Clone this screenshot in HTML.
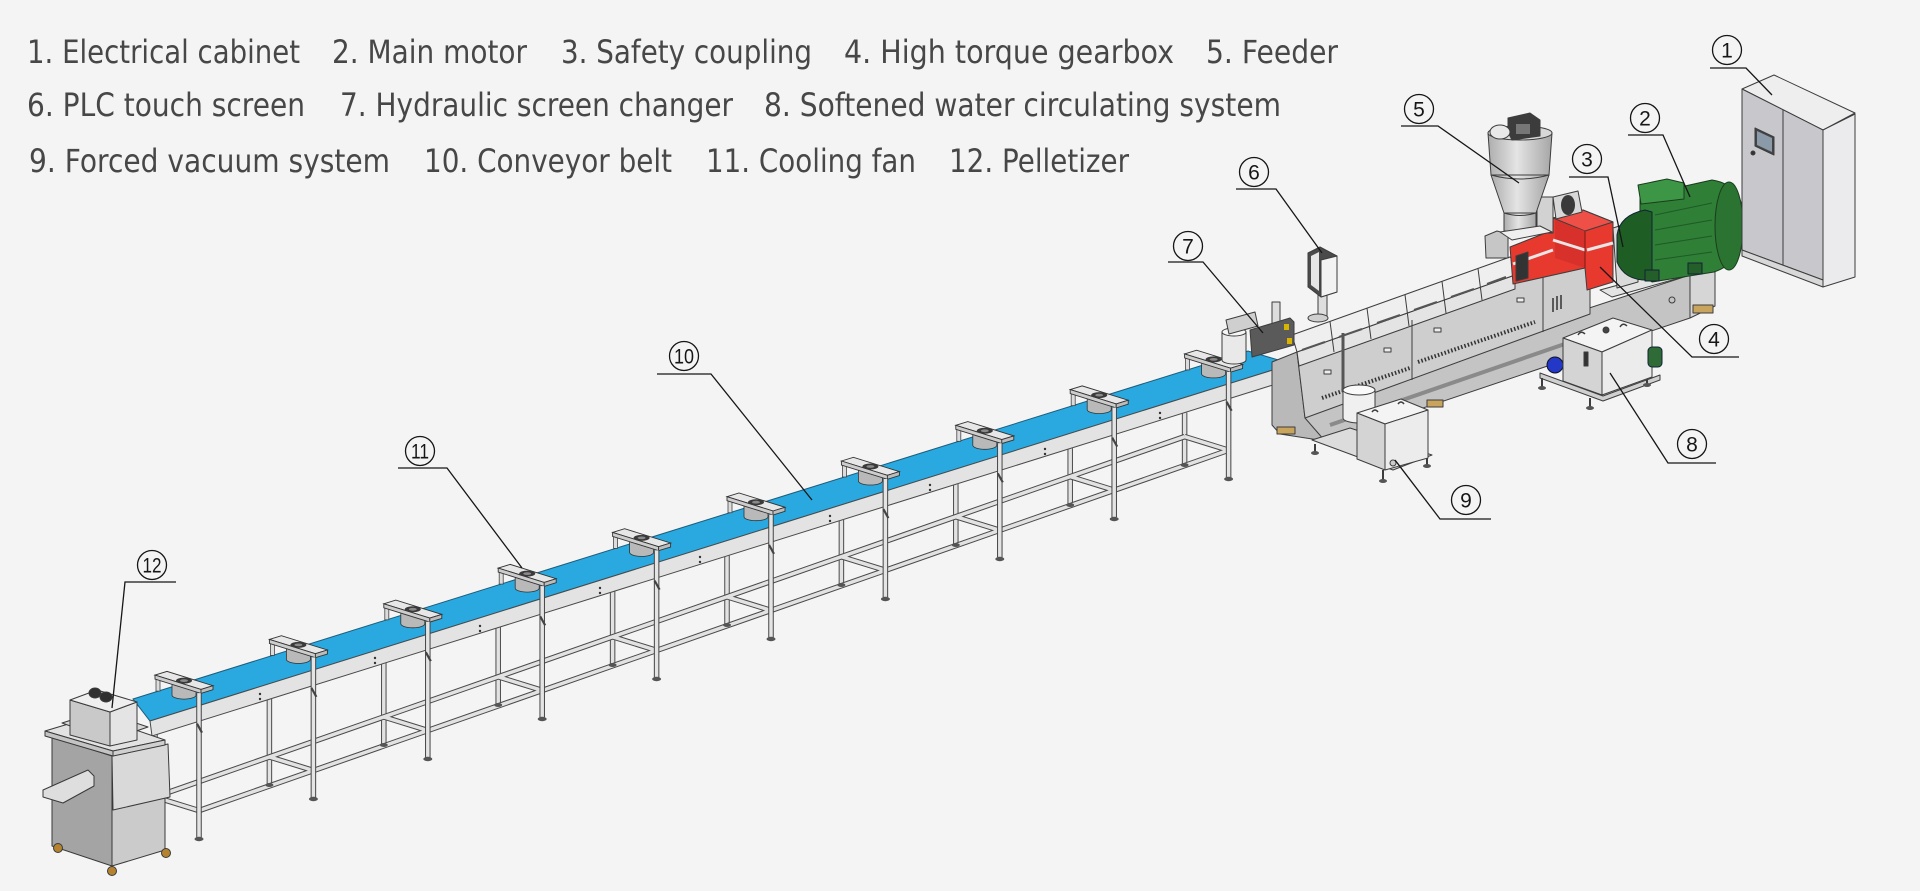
<!DOCTYPE html>
<html><head><meta charset="utf-8"><style>
html,body{margin:0;padding:0;background:#f4f4f4;width:1920px;height:891px;overflow:hidden}
svg{display:block}
</style></head><body>
<svg width="1920" height="891" viewBox="0 0 1920 891" xmlns="http://www.w3.org/2000/svg">
<defs>
<linearGradient id="hg" x1="0" x2="1" y1="0" y2="0"><stop offset="0" stop-color="#adadad"/><stop offset="0.45" stop-color="#e4e4e4"/><stop offset="1" stop-color="#a6a6a6"/></linearGradient>
<g id="fan">
 <rect x="1" y="-13" width="4" height="13" fill="#dcdcdc" stroke="#444" stroke-width="0.8"/>
 <path d="M17,-8 L17,4 A12,4 0 0 0 41,4 L41,-2 Z" fill="#b9b9b9" stroke="#333" stroke-width="0.8"/>
 <polygon points="0,-16 12,-19.7 58,-5.4 46,-1.7" fill="#e7e7e7" stroke="#333" stroke-width="0.9"/>
 <polygon points="0,-16 46,-1.7 46,2.3 0,-12" fill="#cdcdcd" stroke="#333" stroke-width="0.9"/>
 <polygon points="46,-1.7 58,-5.4 58,-1.4 46,2.3" fill="#bcbcbc" stroke="#333" stroke-width="0.9"/>
 <ellipse cx="29" cy="-10.5" rx="8" ry="3" fill="#3a3a3a"/>
 <ellipse cx="29" cy="-10.5" rx="4" ry="1.4" fill="#8a8a8a"/>
</g>
</defs>
<rect x="0" y="0" width="1920" height="891" fill="#f4f4f4"/>

<!-- ===== Legend text ===== -->
<g font-family="'DejaVu Sans','Liberation Sans',sans-serif" font-size="32" fill="#474747">
<text x="27" y="63" textLength="273" lengthAdjust="spacingAndGlyphs">1. Electrical cabinet</text>
<text x="332" y="63" textLength="195" lengthAdjust="spacingAndGlyphs">2. Main motor</text>
<text x="561" y="63" textLength="251" lengthAdjust="spacingAndGlyphs">3. Safety coupling</text>
<text x="844" y="63" textLength="330" lengthAdjust="spacingAndGlyphs">4. High torque gearbox</text>
<text x="1206" y="63" textLength="132" lengthAdjust="spacingAndGlyphs">5. Feeder</text>
<text x="27" y="116" textLength="278" lengthAdjust="spacingAndGlyphs">6. PLC touch screen</text>
<text x="340" y="116" textLength="393" lengthAdjust="spacingAndGlyphs">7. Hydraulic screen changer</text>
<text x="764" y="116" textLength="517" lengthAdjust="spacingAndGlyphs">8. Softened water circulating system</text>
<text x="29" y="172" textLength="361" lengthAdjust="spacingAndGlyphs">9. Forced vacuum system</text>
<text x="424" y="172" textLength="248" lengthAdjust="spacingAndGlyphs">10. Conveyor belt</text>
<text x="706" y="172" textLength="210" lengthAdjust="spacingAndGlyphs">11. Cooling fan</text>
<text x="949" y="172" textLength="180" lengthAdjust="spacingAndGlyphs">12. Pelletizer</text>
</g>

<!-- ===== Conveyor: far legs ===== -->
<g fill="none" stroke-linecap="butt">
<path d="M155,734.4V824 M269.4,698.7V783.9 M383.8,662.9V743.9 M498.2,627.2V703.8 M612.6,591.4V663.8 M727,555.6V623.8 M841.4,519.9V583.7 M955.8,484.1V543.7 M1070.2,448.3V503.6 M1184.6,412.6V463.6" stroke="#4a4a4a" stroke-width="5.5"/>
<path d="M155,734.4V824 M269.4,698.7V783.9 M383.8,662.9V743.9 M498.2,627.2V703.8 M612.6,591.4V663.8 M727,555.6V623.8 M841.4,519.9V583.7 M955.8,484.1V543.7 M1070.2,448.3V503.6 M1184.6,412.6V463.6" stroke="#e2e2e2" stroke-width="3.5"/>
<path d="M155,797 L1184.6,436.6 M199,810.6 L1228.6,450.2 M155,797 L199,810.6 M269.4,756.9 L313.4,770.5 M383.8,716.9 L427.8,730.5 M498.2,676.8 L542.2,690.4 M612.6,636.8 L656.6,650.4 M727,596.8 L771,610.4 M841.4,556.7 L885.4,570.3 M955.8,516.7 L999.8,530.3 M1070.2,476.6 L1114.2,490.2 M1184.6,436.6 L1228.6,450.2" stroke="#4a4a4a" stroke-width="5.5"/>
<path d="M155,797 L1184.6,436.6 M199,810.6 L1228.6,450.2 M155,797 L199,810.6 M269.4,756.9 L313.4,770.5 M383.8,716.9 L427.8,730.5 M498.2,676.8 L542.2,690.4 M612.6,636.8 L656.6,650.4 M727,596.8 L771,610.4 M841.4,556.7 L885.4,570.3 M955.8,516.7 L999.8,530.3 M1070.2,476.6 L1114.2,490.2 M1184.6,436.6 L1228.6,450.2" stroke="#e2e2e2" stroke-width="3.5"/>
</g>
<g fill="#555">
<ellipse cx="155" cy="825" rx="4" ry="2"/><ellipse cx="269.4" cy="785" rx="4" ry="2"/><ellipse cx="383.8" cy="745" rx="4" ry="2"/><ellipse cx="498.2" cy="705" rx="4" ry="2"/><ellipse cx="612.6" cy="665" rx="4" ry="2"/><ellipse cx="727" cy="625" rx="4" ry="2"/><ellipse cx="841.4" cy="585" rx="4" ry="2"/><ellipse cx="955.8" cy="545" rx="4" ry="2"/><ellipse cx="1070.2" cy="505" rx="4" ry="2"/><ellipse cx="1184.6" cy="465" rx="4" ry="2"/>
</g>

<!-- ===== Belt and side rail ===== -->
<polygon points="133,699 1248,351 1292,364 150,721" fill="#29a9df" stroke="#1d5d7c" stroke-width="1"/>
<polygon points="150,721 1292,364 1292,379 152,736" fill="#e3e3e3" stroke="#4a4a4a" stroke-width="1"/>
<g fill="#333">
<circle cx="260" cy="694" r="1.2"/><circle cx="260" cy="699" r="1.2"/><circle cx="375" cy="658" r="1.2"/><circle cx="375" cy="663" r="1.2"/><circle cx="480" cy="626" r="1.2"/><circle cx="480" cy="631" r="1.2"/><circle cx="600" cy="588" r="1.2"/><circle cx="600" cy="593" r="1.2"/><circle cx="700" cy="557" r="1.2"/><circle cx="700" cy="562" r="1.2"/><circle cx="830" cy="516" r="1.2"/><circle cx="830" cy="521" r="1.2"/><circle cx="930" cy="485" r="1.2"/><circle cx="930" cy="490" r="1.2"/><circle cx="1045" cy="449" r="1.2"/><circle cx="1045" cy="454" r="1.2"/><circle cx="1160" cy="413" r="1.2"/><circle cx="1160" cy="418" r="1.2"/>
</g>

<!-- ===== Fans ===== -->
<use href="#fan" transform="translate(155,691.1)"/>
<use href="#fan" transform="translate(269.4,655.4)"/>
<use href="#fan" transform="translate(383.8,619.8)"/>
<use href="#fan" transform="translate(498.2,584.1)"/>
<use href="#fan" transform="translate(612.6,548.4)"/>
<use href="#fan" transform="translate(727,512.7)"/>
<use href="#fan" transform="translate(841.4,477)"/>
<use href="#fan" transform="translate(955.8,441.3)"/>
<use href="#fan" transform="translate(1070.2,405.6)"/>
<use href="#fan" transform="translate(1184.6,369.9)"/>

<!-- ===== Near legs ===== -->
<g fill="none">
<path d="M199,693.1V837.6 M313.4,657.4V797.5 M427.8,621.8V757.5 M542.2,586.1V717.4 M656.6,550.4V677.4 M771,514.7V637.4 M885.4,479V597.3 M999.8,443.3V557.3 M1114.2,407.6V517.2 M1228.6,371.9V477.2" stroke="#444" stroke-width="5.5"/>
<path d="M199,693.1V837.6 M313.4,657.4V797.5 M427.8,621.8V757.5 M542.2,586.1V717.4 M656.6,550.4V677.4 M771,514.7V637.4 M885.4,479V597.3 M999.8,443.3V557.3 M1114.2,407.6V517.2 M1228.6,371.9V477.2" stroke="#e4e4e4" stroke-width="3.5"/>
<path d="M197,723.7 l5,9 M311.4,687.9 l5,9 M425.8,652.2 l5,9 M540.2,616.4 l5,9 M654.6,580.6 l5,9 M769,544.9 l5,9 M883.4,509.1 l5,9 M997.8,473.4 l5,9 M1112.2,437.6 l5,9 M1226.6,401.8 l5,9" stroke="#444" stroke-width="2.2"/>
</g>
<g fill="#555">
<ellipse cx="199" cy="839" rx="4.5" ry="2.2"/><ellipse cx="313.4" cy="799" rx="4.5" ry="2.2"/><ellipse cx="427.8" cy="759" rx="4.5" ry="2.2"/><ellipse cx="542.2" cy="719" rx="4.5" ry="2.2"/><ellipse cx="656.6" cy="679" rx="4.5" ry="2.2"/><ellipse cx="771" cy="639" rx="4.5" ry="2.2"/><ellipse cx="885.4" cy="599" rx="4.5" ry="2.2"/><ellipse cx="999.8" cy="559" rx="4.5" ry="2.2"/><ellipse cx="1114.2" cy="519" rx="4.5" ry="2.2"/><ellipse cx="1228.6" cy="479" rx="4.5" ry="2.2"/>
</g>

<!-- ===== Pelletizer ===== -->
<g stroke="#3a3a3a" stroke-width="1" stroke-linejoin="round">
 <polygon points="112,805 165,792 165,850 112,866" fill="#cbcbcb"/>
 <polygon points="52,737 112,756 112,866 52,846" fill="#a4a4a4"/>
 <polygon points="112,756 168,744 170,797 113,810" fill="#d9d9d9"/>
 <polygon points="45,731 95,716 165,740 113,751" fill="#e2e2e2"/>
 <polygon points="45,731 113,751 113,756 45,736" fill="#c4c4c4"/>
 <polygon points="113,751 165,740 165,745 113,756" fill="#d0d0d0"/>
 <polygon points="43,790 88,770 94,776 94,786 63,803 43,797" fill="#dedede"/>
 <circle cx="58" cy="848" r="4.5" fill="#b5822f"/>
 <circle cx="112" cy="871" r="4.5" fill="#b5822f"/>
 <circle cx="166" cy="853" r="4.5" fill="#b5822f"/>
 <polygon points="62,723 100,711 148,727 110,740" fill="#d6d6d6"/>
 <polygon points="70,700 110,712 110,746 70,735" fill="#c9c9c9"/>
 <polygon points="110,712 137,702 137,740 110,746" fill="#e4e4e4"/>
 <polygon points="70,700 97,690 137,702 110,712" fill="#efefef"/>
 <ellipse cx="95" cy="693" rx="6" ry="5" fill="#2f2f2f"/>
 <ellipse cx="106" cy="697" rx="6" ry="5" fill="#2f2f2f"/>
</g>

<!-- ===== Extruder ===== -->
<g stroke="#3d3d3d" stroke-width="1" stroke-linejoin="round">
 <!-- base -->
 <polygon points="1278,410 1690,275 1690,318 1325,441 1280,428" fill="#c4c4c4"/>
 <polygon points="1690,275 1715,266 1715,306 1690,318" fill="#d6d6d6"/>
 <polygon points="1600,290 1710,260 1722,266 1612,297" fill="#e4e4e4"/>
 <polygon points="1272,362 1297,352 1305,418 1325,441 1280,434 1272,425" fill="#b9b9b9"/>
 <rect x="1277" y="427" width="18" height="7" fill="#c9a45c"/>
 <rect x="1427" y="400" width="16" height="7" fill="#c9a45c"/>
 <rect x="1693" y="305" width="20" height="8" fill="#c9a45c"/>
 <circle cx="1672" cy="300" r="3" fill="none"/>
 <!-- housing -->
 <polygon points="1297,352 1590,250 1590,314 1305,418" fill="#cecece"/>
 <polygon points="1297,352 1515,275 1515,289 1299,366" fill="#e4e4e4"/>
 <line x1="1412" y1="320" x2="1412" y2="380"/>
 <line x1="1543" y1="275" x2="1543" y2="332"/>
 <!-- covers -->
 <polygon points="1292,335 1510,257 1515,262 1515,275 1297,352" fill="#efefef"/>
 <path d="M1330,321.4 L1334,352 M1367,308.2 L1371,339 M1405,294.7 L1409,326 M1442,281.4 L1446,313 M1478,268.6 L1482,300" fill="none"/>
 <path d="M1302,350 L1325,342 M1339,337 L1362,329 M1377,323 L1400,315 M1414,310 L1437,302 M1451,297 L1474,289 M1487,284 L1506,277" stroke="#555" stroke-width="2" fill="none"/>
 <path d="M1322,398 L1410,368 M1418,362 L1535,322" stroke="#333" stroke-width="4" stroke-dasharray="1.5,2" fill="none"/>
 <path d="M1330,425 L1585,337" stroke="#8a8a8a" stroke-width="4" fill="none"/>
 <g fill="#eee"><rect x="1324" y="370" width="7" height="4"/><rect x="1384" y="348" width="7" height="4"/><rect x="1434" y="328" width="7" height="4"/><rect x="1517" y="298" width="7" height="4"/></g>
 <path d="M1553,298 V312 M1557,296 V310 M1561,295 V309" stroke="#333" stroke-width="1.5" fill="none"/>
 <!-- red gearbox -->
 <polygon points="1510,247 1553,230 1553,218 1583,210 1613,222 1613,282 1587,290 1585,268 1513,284" fill="#e8392f"/>
 <polygon points="1553,218 1583,210 1613,222 1585,231" fill="#ee5048"/>
 <polygon points="1555,220 1585,231 1585,268 1555,258" fill="#d8302a" stroke="none"/>
 <path d="M1513,264 L1553,250 M1587,250 L1613,243 M1553,240 L1585,250" stroke="#e6e6e6" stroke-width="3" fill="none"/>
 <polygon points="1516,256 1528,252 1528,278 1516,281" fill="#333"/>
 <line x1="1585" y1="231" x2="1585" y2="268" stroke="#7a1a14"/>
 <!-- coupling -->
 <polygon points="1613,228 1632,222 1638,226 1638,282 1617,288" fill="#dadada"/>
 <!-- motor -->
 <path d="M1640,196 L1712,180 Q1745,185 1744,225 Q1744,262 1714,272 L1652,282 L1640,275 Z" fill="#2f7f37" stroke="#1a3d1d"/>
 <ellipse cx="1729" cy="226" rx="14" ry="44" fill="#2a7331" stroke="#1a3d1d"/>
 <path d="M1655,215 L1712,203 M1655,230 L1712,220 M1655,245 L1712,236 M1655,260 L1712,252" stroke="#1f5a25" fill="none"/>
 <path d="M1617,235 Q1620,215 1645,210 L1652,212 L1652,280 Q1625,282 1617,262 Z" fill="#1e5e25" stroke="#123"/>
 <polygon points="1638,185 1667,179 1684,183 1684,199 1641,204" fill="#3d9646" stroke="#1a3d1d"/>
 <rect x="1645" y="270" width="14" height="11" fill="#245f2a" stroke="#123"/>
 <rect x="1688" y="263" width="14" height="11" fill="#245f2a" stroke="#123"/>
 <!-- feeder motor/gear -->
 <rect x="1537" y="197" width="16" height="36" fill="#d2d2d2"/>
 <polygon points="1553,197 1578,191 1582,212 1556,219" fill="#d8d8d8"/>
 <ellipse cx="1568" cy="205" rx="7" ry="10" fill="#3a3a3a" stroke="none"/>
 <!-- hopper -->
 <path d="M1488,133 L1552,133 L1549,175 L1491,175 Z" fill="url(#hg)"/>
 <path d="M1491,175 L1549,175 L1536,213 L1504,213 Z" fill="url(#hg)"/>
 <rect x="1504" y="213" width="32" height="18" fill="url(#hg)"/>
 <path d="M1491,175 Q1520,183 1549,175 M1504,213 Q1520,218 1536,213" fill="none"/>
 <ellipse cx="1520" cy="133" rx="32" ry="7" fill="#d8d8d8"/>
 <polygon points="1508,118 1530,113 1540,120 1540,136 1512,140 1508,132" fill="#3c3c3c"/>
 <rect x="1516" y="124" width="14" height="10" fill="#777" stroke="none"/>
 <ellipse cx="1500" cy="132" rx="10" ry="7" fill="#e8e8e8"/>
 <polygon points="1485,236 1497,231 1508,234 1508,258 1486,258" fill="#c6c6c6"/>
 <polygon points="1500,232 1540,226 1552,232 1512,240" fill="#efefef"/>
 <!-- PLC -->
 <rect x="1318" y="293" width="9" height="25" fill="#dedede"/>
 <ellipse cx="1318" cy="318" rx="10" ry="4" fill="#cfcfcf"/>
 <polygon points="1308,253 1320,247 1337,256 1337,292 1321,297 1308,287" fill="#4a4a4a"/>
 <polygon points="1311,256 1319,252 1319,291 1311,285" fill="#e6e6e6" stroke="none"/>
 <polygon points="1321,260 1337,256 1337,292 1321,297" fill="#f3f3f3"/>
 <!-- screen changer -->
 <rect x="1272" y="302" width="8" height="24" fill="#ddd"/>
 <path d="M1222,332 L1222,360 A12,4 0 0 0 1246,360 L1246,332 Z" fill="#e9e9e9"/>
 <ellipse cx="1234" cy="332" rx="12" ry="4" fill="#f6f6f6"/>
 <polygon points="1226,320 1255,312 1258,326 1229,334" fill="#cfcfcf"/>
 <polygon points="1250,330 1290,318 1294,322 1294,345 1252,357" fill="#5a5a5a"/>
 <rect x="1284" y="324" width="5" height="6" fill="#d8b400" stroke="none"/>
 <rect x="1287" y="338" width="5" height="6" fill="#d8b400" stroke="none"/>
 <path d="M1343,333 V392" stroke="#555" stroke-width="3" fill="none"/>
 <!-- vacuum -->
 <polygon points="1312,440 1350,428 1432,455 1393,470" fill="#dcdcdc"/>
 <path d="M1315,444 V452 M1383,470 V480 M1427,457 V465" fill="none" stroke-width="2"/>
 <g fill="#555" stroke="none"><ellipse cx="1315" cy="453" rx="4" ry="2"/><ellipse cx="1383" cy="481" rx="4" ry="2"/><ellipse cx="1427" cy="466" rx="4" ry="2"/></g>
 <path d="M1343,390 L1343,418 A16,5 0 0 0 1375,418 L1375,390 Z" fill="#f0f0f0"/>
 <ellipse cx="1359" cy="390" rx="16" ry="5" fill="#fafafa"/>
 <polygon points="1357,413 1401,399 1428,410 1385,424" fill="#f4f4f4"/>
 <polygon points="1357,413 1385,424 1385,470 1357,459" fill="#d4d4d4"/>
 <polygon points="1385,424 1428,410 1428,458 1385,470" fill="#ececec"/>
 <path d="M1372,412 q3,-4 6,0 M1398,404 q3,-4 6,0" fill="none" stroke-width="1.5"/>
 <circle cx="1393" cy="463" r="3" fill="#ccc"/>
 <!-- water system -->
 <polygon points="1540,373 1603,396 1660,375 1660,380 1603,401 1540,378" fill="#d0d0d0"/>
 <path d="M1542,378 V387 M1590,398 V407 M1647,380 V384" fill="none" stroke-width="2"/>
 <g fill="#555" stroke="none"><ellipse cx="1542" cy="388" rx="4" ry="2"/><ellipse cx="1590" cy="408" rx="4" ry="2"/><ellipse cx="1647" cy="385" rx="4" ry="2"/></g>
 <ellipse cx="1555" cy="365" rx="8" ry="8" fill="#2438c8" stroke="#112"/>
 <polygon points="1563,338 1613,318 1652,330 1602,352" fill="#f4f4f4"/>
 <polygon points="1563,338 1602,352 1602,395 1563,381" fill="#d4d4d4"/>
 <polygon points="1602,352 1652,330 1652,377 1602,395" fill="#ececec"/>
 <rect x="1648" y="347" width="14" height="20" rx="4" fill="#2f6b36" stroke="#123"/>
 <rect x="1584" y="352" width="4" height="14" fill="#333"/>
 <path d="M1578,335 q3,-5 7,-1 M1620,327 q3,-5 7,-1" fill="none" stroke-width="1.5"/>
 <circle cx="1606" cy="330" r="3" fill="#444"/>
 <!-- cabinet -->
 <polygon points="1742,89 1774,75 1855,113 1823,130" fill="#eeeeee"/>
 <polygon points="1742,89 1823,130 1823,280 1742,250" fill="#c8c8cc"/>
 <polygon points="1823,130 1855,114 1855,277 1823,287" fill="#ebebed"/>
 <polygon points="1742,250 1823,280 1823,287 1742,256" fill="#d8d8d8"/>
 <line x1="1783" y1="110" x2="1783" y2="265"/>
 <polygon points="1755,128 1774,137 1774,155 1755,146" fill="#444"/>
 <polygon points="1757,131 1772,138 1772,152 1757,145" fill="#8a9aa8" stroke="none"/>
 <circle cx="1753" cy="153" r="2" fill="#333"/>
</g>

<!-- ===== Callouts ===== -->
<g fill="none" stroke="#161616" stroke-width="1.3">
 <circle cx="1727" cy="50" r="14.5"/><path d="M1710,68 H1746 L1772,95"/>
 <circle cx="1645" cy="118" r="14.5"/><path d="M1628,135 H1663 L1690,197"/>
 <circle cx="1587" cy="159" r="14.5"/><path d="M1569,177 H1608 L1623,247"/>
 <circle cx="1714" cy="339" r="14.5"/><path d="M1739,357 H1692 L1600,267"/>
 <circle cx="1419" cy="109" r="14.5"/><path d="M1401,126 H1438 L1519,183"/>
 <circle cx="1254" cy="172" r="14.5"/><path d="M1236,189 H1276 L1322,253"/>
 <circle cx="1188" cy="246" r="14.5"/><path d="M1168,262 H1203 L1263,333"/>
 <circle cx="1692" cy="444" r="14.5"/><path d="M1716,463 H1668 L1610,373"/>
 <circle cx="1466" cy="500" r="14.5"/><path d="M1491,519 H1440 L1395,460"/>
 <circle cx="684" cy="356" r="14.5"/><path d="M657,374 H711 L812,500"/>
 <circle cx="420" cy="451" r="14.5"/><path d="M398,468 H447 L522,568"/>
 <circle cx="152" cy="565" r="14.5"/><path d="M176,582 H125 L112,708"/>
</g>
<g font-family="'Liberation Sans',sans-serif" font-size="21" fill="#161616" text-anchor="middle">
 <text x="1727" y="57.5">1</text>
 <text x="1645" y="125.5">2</text>
 <text x="1587" y="166.5">3</text>
 <text x="1714" y="346.5">4</text>
 <text x="1419" y="116.5">5</text>
 <text x="1254" y="179.5">6</text>
 <text x="1188" y="253.5">7</text>
 <text x="1692" y="451.5">8</text>
 <text x="1466" y="507.5">9</text>
 <text x="684" y="363.5" textLength="20" lengthAdjust="spacingAndGlyphs">10</text>
 <text x="420" y="458.5" textLength="18" lengthAdjust="spacingAndGlyphs">11</text>
 <text x="152" y="572.5" textLength="19" lengthAdjust="spacingAndGlyphs">12</text>
</g>
</svg>
</body></html>
